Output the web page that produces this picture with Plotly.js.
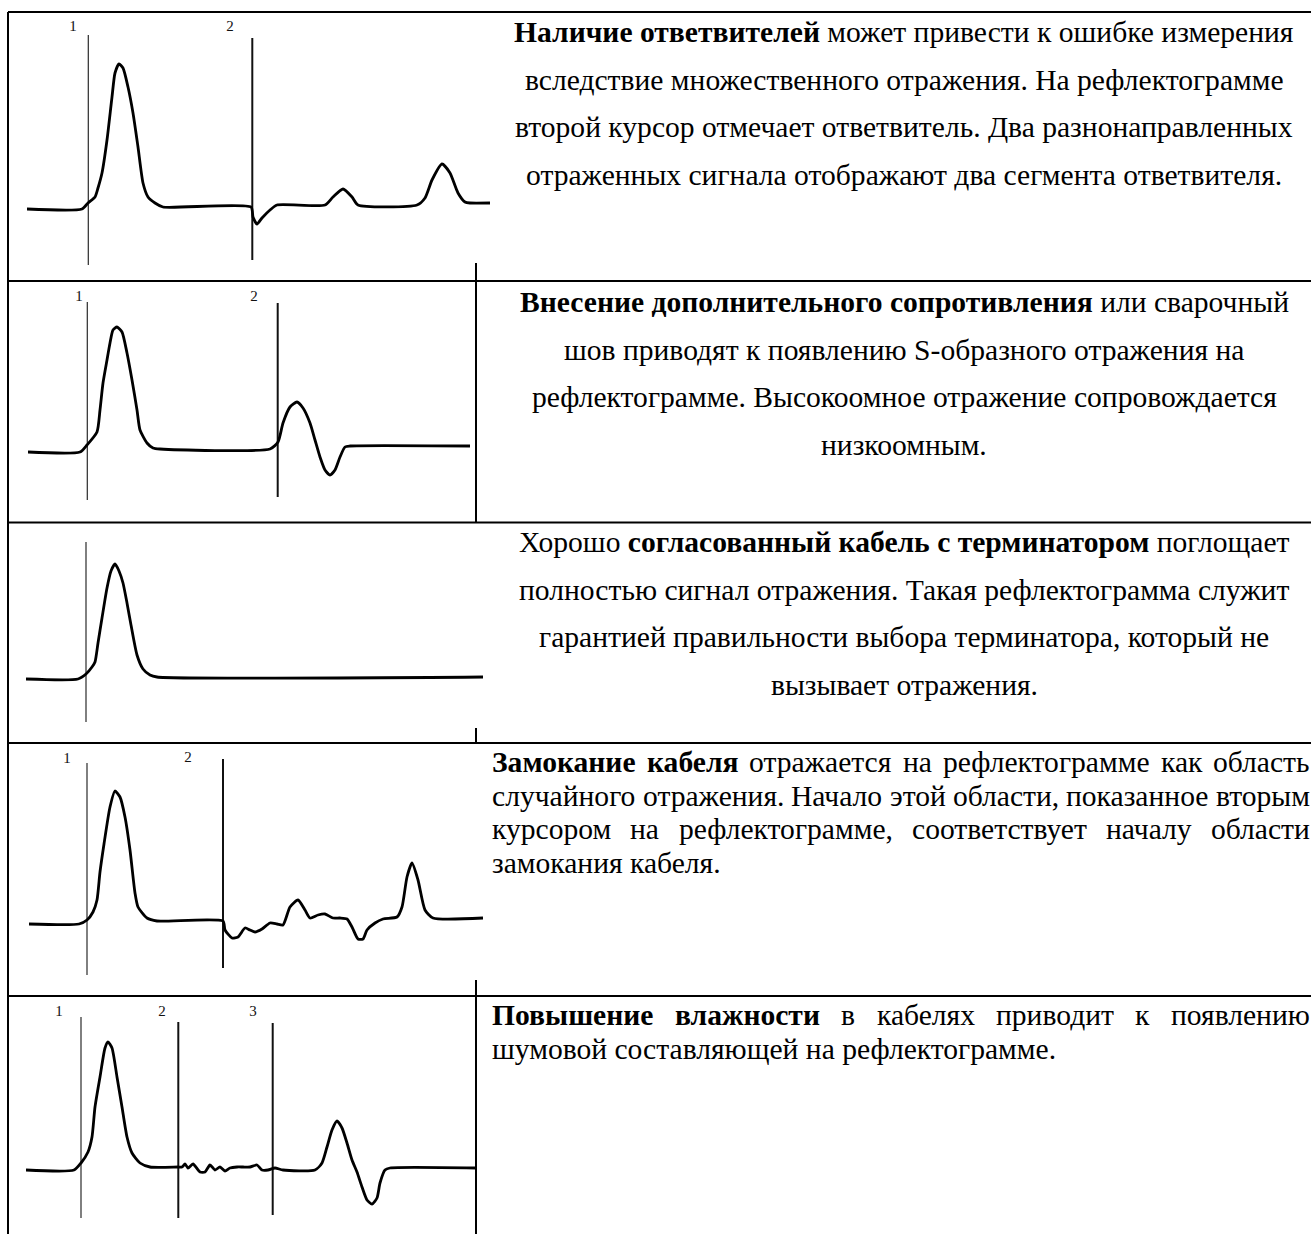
<!DOCTYPE html>
<html>
<head>
<meta charset="utf-8">
<script src="https://cdn.plot.ly/plotly-3.0.1.min.js"></script>
<style>
html,body{margin:0;padding:0;background:#fff;}
#chart{width:1311px;height:1234px;}
</style>
</head>
<body>
<div id="chart"></div>
<script>
// ---------------- DATA ----------------
// Panel 1: couplers (distance units, amplitude units)
const p1X = [7, 62, 68, 75, 78, 82, 87, 92, 95, 99, 103, 108, 113, 118, 123, 128, 135, 143, 231, 233, 237, 242, 250, 257, 305, 313, 323, 332, 338, 397, 405, 412, 422, 430, 438, 445, 450, 470];
const p1Y = [0, 0, 6, 12, 21, 36, 69, 112, 136, 145, 141, 122, 96, 62, 26, 12, 6, 2, 2, -8, -15, -9, -1, 4, 4, 12, 20, 12, 4, 4, 11, 29, 45, 36, 16, 7, 6, 6];
const p1CursorX = [68.3, 232.3];
const p1CursorTop = [174, 171];
const p1CursorBottom = [-56, -51];
const p1Labels = ['1', '2'];
const p1LabelX = [53, 210];
const p1LabelY = [182, 182];

// Panel 2: added resistance / weld (S-shaped reflection)
const p2X = [8, 60, 67, 77, 80, 83, 87, 90, 93, 97, 102, 107, 112, 117, 120, 127, 133, 140, 250, 258, 263, 270, 277, 283, 290, 295, 300, 305, 310, 315, 320, 325, 330, 450];
const p2Y = [0, 0, 7, 20, 42, 69, 92, 109, 122, 125, 120, 99, 72, 42, 22, 9, 4, 3, 3, 10, 29, 45, 50, 44, 29, 12, -5, -18, -23, -18, -5, 5, 6, 6];
const p2CursorX = [67.3, 257.7];
const p2CursorTop = [150, 149];
const p2CursorBottom = [-48, -45];
const p2Labels = ['1', '2'];
const p2LabelX = [59, 234];
const p2LabelY = [155, 155];

// Panel 3: matched cable with terminator
const p3X = [6, 58, 66, 72, 75, 78, 82, 87, 91, 95, 99, 103, 107, 111, 117, 123, 130, 137, 463];
const p3Y = [0, 0, 5, 12, 17, 36, 61, 91, 108, 115, 108, 96, 76, 54, 24, 10, 4, 2, 2];
const p3CursorX = [66];
const p3CursorTop = [137];
const p3CursorBottom = [-43];
const p3Labels = [];
const p3LabelX = [];
const p3LabelY = [];

// Panel 4: water ingress
const p4X = [9, 59, 67, 73, 77, 80, 84, 90, 95, 100, 105, 110, 115, 118, 127, 137, 203,
             205, 212, 218, 225, 230, 235, 242, 250, 257, 263, 270, 278, 285, 290, 298, 305, 313, 320, 327, 332, 338, 343, 347, 355, 363, 377, 382, 387, 392, 398, 405, 413, 463];
const p4Y = [0, 0, 4, 12, 24, 52, 80, 117, 133, 127, 107, 74, 31, 17, 6, 3, 3,
             -6, -14, -13, -4, -6, -8, -5, 1, 0, -1, 17, 24, 14, 6, 9, 10, 6, 6, 5, -3, -15, -15, -6, 1, 5, 7, 17, 47, 61, 44, 14, 6, 6];
const p4CursorX = [67, 203];
const p4CursorTop = [161, 165];
const p4CursorBottom = [-51, -44];
const p4Labels = ['1', '2'];
const p4LabelX = [47, 168];
const p4LabelY = [165, 166];

// Panel 5: increased humidity (noise)
const p5X = [6, 54, 61, 68, 72, 75, 80, 85, 88, 92, 97, 102, 107, 112, 120, 130, 158,
             162, 165, 168, 173, 180, 185, 190, 195, 200, 205, 210, 217, 223, 230, 237, 242, 248, 255, 263, 295,
             302, 307, 312, 317, 322, 327, 332, 337, 342, 347, 352, 357, 360, 365, 370, 456];
const p5Y = [0, 0, 7, 18, 33, 63, 93, 122, 128, 122, 93, 63, 33, 17, 7, 3, 3,
             3, 6, 2, 6, -2, -2, 5, 0, 3, -1, 2, 3, 3, 3, 5, 0, 0, 2, 0, 0,
             7, 23, 40, 49, 42, 27, 10, -2, -17, -30, -34, -28, -13, 0, 2, 2];
const p5CursorX = [61, 158.3, 252.7];
const p5CursorTop = [153, 148, 147];
const p5CursorBottom = [-48, -48, -45];
const p5Labels = ['1', '2', '3'];
const p5LabelX = [39, 142, 233];
const p5LabelY = [158, 158, 158];

// Text of the right column
const row1Lines = [
  '<b>Наличие ответвителей</b> может привести к ошибке измерения',
  'вследствие множественного отражения. На рефлектограмме',
  'второй курсор отмечает ответвитель. Два разнонаправленных',
  'отраженных сигнала отображают два сегмента ответвителя.'
];
const row2Lines = [
  '<b>Внесение дополнительного сопротивления</b> или сварочный',
  'шов приводят к появлению S-образного отражения на',
  'рефлектограмме. Высокоомное отражение сопровождается',
  'низкоомным.'
];
const row3Lines = [
  'Хорошо <b>согласованный кабель с терминатором</b> поглощает',
  'полностью сигнал отражения. Такая рефлектограмма служит',
  'гарантией правильности выбора терминатора, который не',
  'вызывает отражения.'
];
const row4Lines = [
  '<b>Замокание кабеля</b> отражается на рефлектограмме как область',
  'случайного отражения. Начало этой области, показанное вторым',
  'курсором на рефлектограмме, соответствует началу области',
  'замокания кабеля.'
];
const row5Lines = [
  '<b>Повышение влажности</b> в кабелях приводит к появлению',
  'шумовой составляющей на рефлектограмме.'
];

// ---------------- LAYOUT / STYLE ----------------
const W = 1311, H = 1234;
const FONT = '"Liberation Serif", "Times New Roman", serif';
const fx = x => x / W;
const fy = y => 1 - y / H;

const ctx = document.createElement('canvas').getContext('2d');
function measure(text, bold, size) {
  ctx.font = (bold ? 'bold ' : '') + size + 'px ' + FONT;
  return ctx.measureText(text).width;
}
const FS = 100 * 819 / measure('случайного отражения. Начало этой области, показанное вторым', false, 100);

const panels = [
  {ox: 20, oy: 209, top: 14, bottom: 279, x: p1X, y: p1Y, cx: p1CursorX, ct: p1CursorTop, cb: p1CursorBottom, lt: p1Labels, lx: p1LabelX, ly: p1LabelY},
  {ox: 20, oy: 452, top: 283, bottom: 520, x: p2X, y: p2Y, cx: p2CursorX, ct: p2CursorTop, cb: p2CursorBottom, lt: p2Labels, lx: p2LabelX, ly: p2LabelY},
  {ox: 20, oy: 679, top: 524, bottom: 741, x: p3X, y: p3Y, cx: p3CursorX, ct: p3CursorTop, cb: p3CursorBottom, lt: p3Labels, lx: p3LabelX, ly: p3LabelY},
  {ox: 20, oy: 924, top: 745, bottom: 994, x: p4X, y: p4Y, cx: p4CursorX, ct: p4CursorTop, cb: p4CursorBottom, lt: p4Labels, lx: p4LabelX, ly: p4LabelY},
  {ox: 20, oy: 1170, top: 998, bottom: 1234, x: p5X, y: p5Y, cx: p5CursorX, ct: p5CursorTop, cb: p5CursorBottom, lt: p5Labels, lx: p5LabelX, ly: p5LabelY}
];

const traces = [];
const layout = {
  width: W, height: H,
  margin: {l: 0, r: 0, t: 0, b: 0, pad: 0},
  paper_bgcolor: '#ffffff',
  plot_bgcolor: 'rgba(0,0,0,0)',
  showlegend: false,
  shapes: [],
  annotations: []
};

panels.forEach((p, i) => {
  const sfx = i === 0 ? '' : String(i + 1);
  const PW = 480;
  layout['xaxis' + sfx] = {domain: [fx(p.ox), fx(p.ox + PW)], range: [0, PW], visible: false, fixedrange: true, anchor: 'y' + sfx};
  layout['yaxis' + sfx] = {domain: [fy(p.bottom), fy(p.top)], range: [p.oy - p.bottom, p.oy - p.top], visible: false, fixedrange: true, anchor: 'x' + sfx};
  // cursors
  p.cx.forEach((cx, k) => {
    traces.push({
      type: 'scatter', mode: 'lines', x: [cx, cx], y: [p.cb[k], p.ct[k]],
      xaxis: 'x' + sfx, yaxis: 'y' + sfx,
      line: {color: k === 0 ? '#2a2a2a' : '#111111', width: k === 0 ? 1.2 : 2},
      hoverinfo: 'skip'
    });
  });
  // reflectogram
  traces.push({
    type: 'scatter', mode: 'lines', x: p.x, y: p.y,
    xaxis: 'x' + sfx, yaxis: 'y' + sfx,
    line: {color: '#000000', width: 2.8, shape: 'spline', smoothing: 0.6},
    hoverinfo: 'skip'
  });
  // cursor labels
  if (p.lt.length) {
    traces.push({
      type: 'scatter', mode: 'text', x: p.lx, y: p.ly, text: p.lt,
      xaxis: 'x' + sfx, yaxis: 'y' + sfx,
      textposition: 'middle center', cliponaxis: false,
      textfont: {family: FONT, size: 15, color: '#111'},
      hoverinfo: 'skip'
    });
  }
});

// table borders
function hline(y, x0, x1) { layout.shapes.push({type: 'line', xref: 'paper', yref: 'paper', x0: fx(x0), x1: fx(x1), y0: fy(y), y1: fy(y), line: {color: '#000', width: 2}}); }
function vline(x, y0, y1) { layout.shapes.push({type: 'line', xref: 'paper', yref: 'paper', x0: fx(x), x1: fx(x), y0: fy(y0), y1: fy(y1), line: {color: '#000', width: 2}}); }
[12, 281, 522.5, 743, 996].forEach(y => hline(y, 8, 1311));
vline(8, 12, 1234);
vline(476, 263, 281);
vline(476, 281, 522.5);
vline(476, 728, 743);
vline(476, 980, 996);
vline(476, 996, 1234);

// centered text
const CX = 904;
function centered(lines, ys) {
  lines.forEach((t, k) => {
    layout.annotations.push({xref: 'paper', yref: 'paper', x: fx(CX), y: fy(ys[k]), xanchor: 'center', yanchor: 'middle',
      text: t, showarrow: false, font: {family: FONT, size: FS, color: '#000'}, borderpad: 0});
  });
}
centered(row1Lines, [32, 79.7, 127.4, 175]);
centered(row2Lines, [302, 349.7, 397.4, 445]);
centered(row3Lines, [542, 589.7, 637.4, 685]);

// justified text
const LEFT = 491, RIGHT = 1309;
function parseWords(line) {
  const out = [];
  let bold = false;
  line.split(' ').forEach(w => {
    let b = bold;
    if (w.startsWith('<b>')) { b = true; bold = true; w = w.slice(3); }
    if (w.endsWith('</b>')) { w = w.slice(0, -4); bold = false; }
    out.push({w: w, b: b});
  });
  return out;
}
function justified(lines, ys) {
  lines.forEach((line, k) => {
    if (k === lines.length - 1) {
      layout.annotations.push({xref: 'paper', yref: 'paper', x: fx(LEFT), y: fy(ys[k]), xanchor: 'left', yanchor: 'middle',
        text: line, showarrow: false, font: {family: FONT, size: FS, color: '#000'}, borderpad: 0});
      return;
    }
    const words = parseWords(line);
    const widths = words.map(o => measure(o.w, o.b, FS));
    const total = widths.reduce((a, b) => a + b, 0);
    const gap = (RIGHT - LEFT - total) / (words.length - 1);
    let x = LEFT;
    words.forEach((o, j) => {
      layout.annotations.push({xref: 'paper', yref: 'paper', x: fx(x), y: fy(ys[k]), xanchor: 'left', yanchor: 'middle',
        text: o.b ? '<b>' + o.w + '</b>' : o.w, showarrow: false, font: {family: FONT, size: FS, color: '#000'}, borderpad: 0});
      x += widths[j] + gap;
    });
  });
}
justified(row4Lines, [762, 795.5, 829, 862.5]);
justified(row5Lines, [1015, 1048.5]);

Plotly.newPlot('chart', traces, layout, {displayModeBar: false, staticPlot: true});
</script>
</body>
</html>
